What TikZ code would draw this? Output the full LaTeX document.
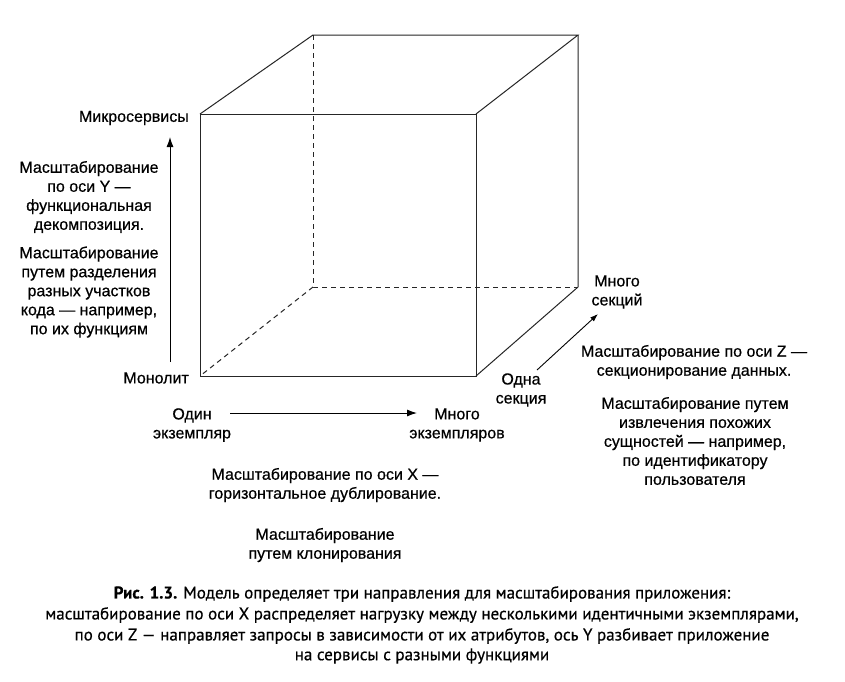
\documentclass[tikz,border=0pt]{standalone}
\usepackage{fontspec}
\setmainfont{Liberation Sans}
\newfontfamily\lblfont[FakeBold=0.5]{Liberation Sans}
\newfontfamily\capfont[FakeBold=0.6]{PT Sans}
\usetikzlibrary{arrows.meta}
\begin{document}
\begin{tikzpicture}[x=1pt,y=-1pt,
  edge/.style={line width=1pt, black!85},
  hidden/.style={edge, dash pattern=on 5pt off 4pt},
  axis/.style={line width=1pt, black, -{Latex[length=10pt,width=7pt]}},
  zaxis/.style={line width=0.9pt, black, -{Latex[length=8pt,width=5.5pt]}},
  lbl/.style={font=\lblfont\fontsize{16}{19}\selectfont, align=center, inner sep=0pt, text=black},
  captext/.style={font=\capfont\fontsize{17}{20}\selectfont, inner sep=0pt}]
\useasboundingbox (0,0) rectangle (845,681);
\fill[white] (0,0) rectangle (845,681);
% cube corners
\coordinate (F1) at (200,114);
\coordinate (F2) at (476,114);
\coordinate (F3) at (476,376);
\coordinate (F4) at (200,376);
\coordinate (B1) at (313,35);
\coordinate (B2) at (578,35);
\coordinate (B3) at (578,287);
\coordinate (B4) at (313,287);
\draw[hidden] (B1)--(B4)--(B3);
\draw[hidden] (B4)--(F4);
\draw[edge] (F1)--(F2)--(F3)--(F4)--cycle;
\draw[edge] (F1)--(B1)--(B2)--(F2);
\draw[edge] (B2)--(B3)--(F3);
% Y axis
\node[lbl, anchor=east] (micro) at (189,118) {Микросервисы};
\node[lbl, anchor=east] (mono) at (189,378) {Монолит};
\coordinate (ya) at (170,362);
\coordinate (yb) at (170,137);
\draw[axis] (ya)--(yb);
\node[lbl] (ytext1) at (89,197) {Масштабирование\\по оси Y —\\функциональная\\декомпозиция.};
\node[lbl] (ytext2) at (89,292) {Масштабирование\\путем разделения\\разных участков\\кода — например,\\по их функциям};
% X axis
\node[lbl] (one) at (192,425) {Один\\экземпляр};
\node[lbl] (many) at (457,425) {Много\\экземпляров};
\coordinate (xa) at (230,413);
\coordinate (xb) at (417,413);
\draw[axis] (xa)--(xb);
\node[lbl] (xtext1) at (325,485) {Масштабирование по оси X —\\горизонтальное дублирование.};
\node[lbl] (xtext2) at (325,545) {Масштабирование\\путем клонирования};
% Z axis
\node[lbl] (manysec) at (617,292) {Много\\секций};
\node[lbl] (onesec) at (521,390) {Одна\\секция};
\coordinate (za) at (537,370);
\coordinate (zb) at (598,314);
\draw[zaxis] (za)--(zb);
\node[lbl] (ztext1) at (694,362) {Масштабирование по оси Z —\\секционирование данных.};
\node[lbl] (ztext2) at (695,441) {Масштабирование путем\\извлечения похожих\\сущностей — например,\\по идентификатору\\пользователя};
% caption
\node[captext] (cap1) at (422,594) {\textbf{Рис. 1.3.} Модель определяет три направления для масштабирования приложения:};
\node[captext] (cap2) at (422,615) {масштабирование по оси X распределяет нагрузку между несколькими идентичными экземплярами,};
\node[captext] (cap3) at (422,636) {по оси Z — направляет запросы в зависимости от их атрибутов, ось Y разбивает приложение};
\node[captext] (cap4) at (422,656) {на сервисы с разными функциями};
\end{tikzpicture}
\end{document}
